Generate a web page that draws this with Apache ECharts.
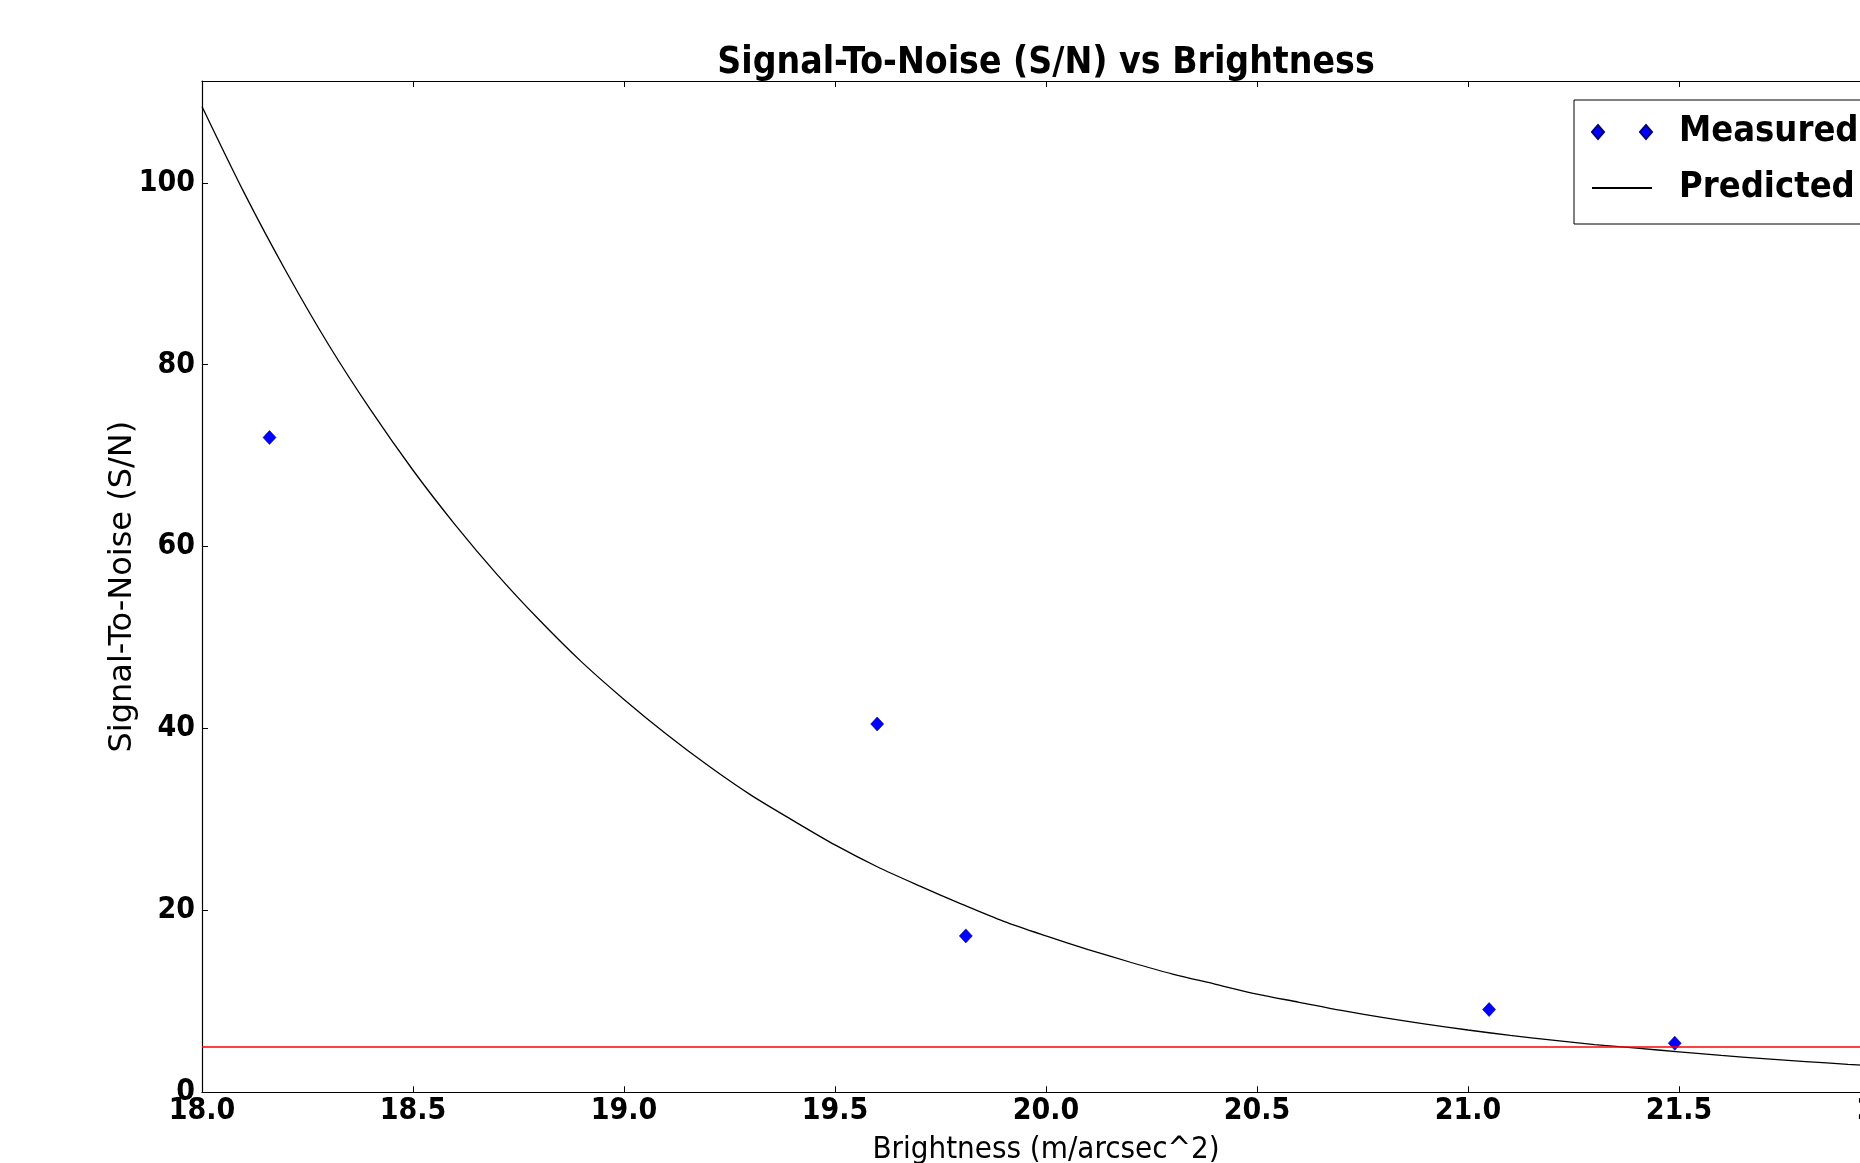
<!DOCTYPE html>
<html>
<head>
<meta charset="utf-8">
<title>Signal-To-Noise (S/N) vs Brightness</title>
<script src="https://cdn.jsdelivr.net/npm/echarts@6/dist/echarts.min.js"></script>
<style>
  html, body { margin: 0; padding: 0; overflow: hidden; background: #fff; }
  /* figure is wider than the window, the right part is cut off like in the picture */
  #chart { width: 2092px; height: 1163px; }
</style>
</head>
<body>
<div id="chart"></div>
<script>
// measured points
var measuredX = [18.16, 19.60, 19.81, 21.05, 21.49];
var measuredY = [72.0, 40.5, 17.2, 9.1, 5.4];

// predicted curve, every 0.1
var predictedX = [18.0, 18.1, 18.2, 18.3, 18.4, 18.5, 18.6, 18.7, 18.8, 18.9,
                  19.0, 19.1, 19.2, 19.3, 19.4, 19.5, 19.6, 19.7, 19.8, 19.9,
                  20.0, 20.1, 20.2, 20.3, 20.4, 20.5, 20.6, 20.7, 20.8, 20.9,
                  21.0, 21.1, 21.2, 21.3, 21.4, 21.5, 21.6, 21.7, 21.8, 21.9, 22.0];
var predictedY = [108.4, 98.9, 90.2, 82.2, 75.0, 68.4, 62.4, 56.9, 51.9, 47.3,
                  43.2, 39.4, 35.9, 32.7, 29.9, 27.2, 24.8, 22.7, 20.7, 18.8,
                  17.2, 15.7, 14.3, 13.0, 11.9, 10.8, 9.9, 9.0, 8.2, 7.5,
                  6.85, 6.26, 5.73, 5.25, 4.85, 4.45, 4.05, 3.70, 3.38, 3.08, 2.82];

// red S/N limit
var threshold = 5;

// axes
var xRange = [18, 22];
var xStep = 0.5;
var yRange = [0, 111.2];
var yStep = 20;

var condensed = '"DejaVu Sans Condensed", "DejaVu Sans", sans-serif';
var regular = '"DejaVu Sans", sans-serif';

var chart = echarts.init(document.getElementById('chart'), null, { renderer: 'canvas' });

var measuredData = measuredX.map(function(x, i) { return [x, measuredY[i]]; });
var predictedData = predictedX.map(function(x, i) { return [x, predictedY[i]]; });

var frameLine = { onZero: false, lineStyle: { color: '#000', width: 1.2 } };

var option = {
    animation: false,
    backgroundColor: '#fff',
    title: {
        text: 'Signal-To-Noise (S/N) vs Brightness',
        left: 'center',
        top: 45,
        padding: 0,
        textStyle: { fontFamily: condensed, fontWeight: 'bold', fontSize: 37, color: '#000' }
    },
    legend: {
        orient: 'vertical',
        left: 1574,
        top: 100,
        padding: [9, 17, 13, 17],
        itemGap: 10,
        itemWidth: 60,
        itemHeight: 14,
        selectedMode: false,
        borderColor: '#000',
        borderWidth: 1,
        borderRadius: 0,
        backgroundColor: '#fff',
        textStyle: {
            fontFamily: condensed, fontWeight: 'bold', fontSize: 36, color: '#000',
            lineHeight: 38, padding: [8, 0, 0, 22]
        },
        data: [
            { name: 'Measured', icon: 'path://M0,7L6,0L12,7L6,14Z M48,7L54,0L60,7L54,14Z' },
            { name: 'Predicted', itemStyle: { opacity: 0 } }
        ]
    },
    grid: { left: 202, right: 202, top: 81, bottom: 70.7, containLabel: false, outerBoundsMode: 'none' },
    xAxis: [{
        type: 'value',
        position: 'bottom',
        min: xRange[0], max: xRange[1], interval: xStep,
        axisLine: frameLine,
        axisTick: { inside: true, length: 6, lineStyle: { color: '#000' } },
        axisLabel: {
            margin: 4,
            formatter: function(v) { return v.toFixed(1); },
            fontFamily: condensed, fontWeight: 'bold', fontSize: 30, color: '#000'
        },
        splitLine: { show: false },
        name: 'Brightness (m/arcsec^2)',
        nameLocation: 'middle',
        nameGap: 42,
        nameTextStyle: { fontFamily: condensed, fontSize: 31, color: '#000' }
    }, {
        type: 'value',
        position: 'top',
        min: xRange[0], max: xRange[1], interval: xStep,
        axisLine: frameLine,
        axisTick: { inside: true, length: 6, lineStyle: { color: '#000' } },
        axisLabel: { show: false },
        splitLine: { show: false }
    }],
    yAxis: [{
        type: 'value',
        position: 'left',
        min: yRange[0], max: yRange[1], interval: yStep,
        axisLine: frameLine,
        axisTick: { inside: true, length: 6, lineStyle: { color: '#000' } },
        axisLabel: {
            margin: 7,
            showMaxLabel: false,
            fontFamily: condensed, fontWeight: 'bold', fontSize: 30, color: '#000'
        },
        splitLine: { show: false },
        name: 'Signal-To-Noise (S/N)',
        nameLocation: 'middle',
        nameRotate: 90,
        nameGap: 63,
        nameMoveOverlap: false,
        nameTextStyle: { fontFamily: regular, fontSize: 32, color: '#000' }
    }, {
        type: 'value',
        position: 'right',
        min: yRange[0], max: yRange[1], interval: yStep,
        axisLine: frameLine,
        axisTick: { inside: true, length: 6, lineStyle: { color: '#000' } },
        axisLabel: { show: false },
        splitLine: { show: false }
    }],
    series: [{
        name: 'Predicted',
        type: 'line',
        data: predictedData,
        symbol: 'none',
        showSymbol: false,
        smooth: 0.3,
        lineStyle: { color: '#000', width: 1.3 },
        itemStyle: { color: '#000' },
        emphasis: { disabled: true },
        z: 2,
        markLine: {
            silent: true,
            symbol: 'none',
            label: { show: false },
            emphasis: { disabled: true },
            lineStyle: { color: '#ff0000', width: 1.6, type: 'solid' },
            data: [{ yAxis: threshold }]
        }
    }, {
        name: 'Measured',
        type: 'scatter',
        data: measuredData,
        symbol: 'diamond',
        symbolSize: [13, 14],
        itemStyle: { color: '#0000ff', borderColor: '#000080', borderWidth: 0.6, opacity: 1 },
        emphasis: { disabled: true },
        z: 3
    }]
};

chart.setOption(option);
</script>
</body>
</html>
